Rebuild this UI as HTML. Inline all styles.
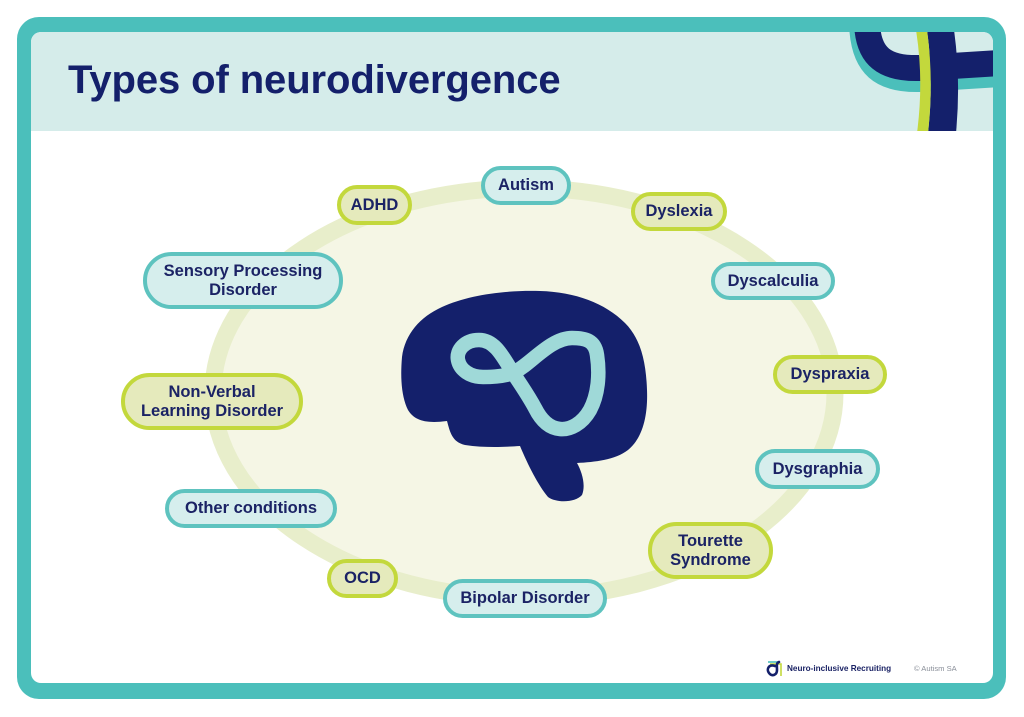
<!DOCTYPE html>
<html>
<head>
<meta charset="utf-8">
<style>
  html,body{margin:0;padding:0;}
  body{width:1024px;height:717px;position:relative;background:#ffffff;overflow:hidden;
       font-family:"Liberation Sans",Arial,sans-serif;}
  .frame{position:absolute;left:17px;top:17px;width:989px;height:682px;background:#4bbfbb;border-radius:22px;}
  .inner{position:absolute;left:31px;top:32px;width:962px;height:651px;background:#ffffff;border-radius:10px;overflow:hidden;}
  .header{position:absolute;left:0;top:0;width:962px;height:99px;background:#d5ecea;}
  .title{position:absolute;left:68px;top:60px;font-size:40px;line-height:40px;font-weight:bold;color:#14206b;letter-spacing:-0.1px;white-space:nowrap;}
  svg.main{position:absolute;left:0;top:0;}
  .pill{position:absolute;box-sizing:border-box;border:4px solid;border-radius:999px;display:flex;align-items:center;justify-content:center;text-align:center;
        font-weight:bold;font-size:16.5px;line-height:19px;color:#1b2365;white-space:nowrap;}
  .t{border-color:#5ec3bf;background:#d6eeed;}
  .l{border-color:#c3d83c;background:#e5eabc;}
  .foot1{position:absolute;left:787px;top:663px;font-size:8.2px;line-height:12px;font-weight:bold;color:#1b2365;white-space:nowrap;}
  .foot2{position:absolute;left:914px;top:663px;font-size:7.6px;line-height:12px;color:#8a8f99;white-space:nowrap;}
</style>
</head>
<body>
<div class="frame"></div>
<div class="inner"><div class="header"></div></div>

<svg class="main" width="1024" height="717" viewBox="0 0 1024 717" xmlns="http://www.w3.org/2000/svg">
  <defs>
    <clipPath id="hdr"><rect x="31" y="32" width="962" height="99"/></clipPath>
  </defs>
  <!-- logo top right -->
  <g clip-path="url(#hdr)">
    <path d="M 862 20 C 862 68, 884 80, 920 79 L 1000 74" fill="none" stroke="#4bbfbb" stroke-width="26"/>
    <path d="M 867 20 C 867 58, 886 69, 920 68 L 1000 63" fill="none" stroke="#14206b" stroke-width="26"/>
    <path d="M 927 30 Q 934 80 928 133 L 956 133 Q 961 80 954 30 Z" fill="#14206b"/>
    <path d="M 916 30 Q 924 80 917 133 L 928 133 Q 934 80 927 30 Z" fill="#c3d83c"/>
  </g>
  <!-- ellipse -->
  <ellipse cx="524" cy="393" rx="311" ry="205" fill="#f5f6e5" stroke="#e8eecb" stroke-width="17"/>
  <!-- brain -->
  <path d="M 402 357
           C 400 380, 402 398, 408 410
           C 414 420, 425 424, 447 421
           C 450 432, 452 442, 465 445
           C 485 448, 505 447, 520 446
           C 528 465, 538 485, 548 497
           C 556 503, 575 503, 582 495
           C 586 485, 582 472, 577 463
           C 595 462, 615 460, 628 450
           C 643 438, 648 415, 647 390
           C 646 360, 640 338, 625 323
           C 605 303, 575 292, 540 291
           C 505 290, 468 295, 442 307
           C 420 317, 405 334, 402 357 Z" fill="#14206b"/>
  <!-- infinity loop -->
  <path d="M 513 373
           C 530 365, 550 338, 572 338
           C 585 338, 595 340, 597 355
           C 600 375, 598 395, 590 410
           C 582 424, 570 430, 560 429
           C 548 428, 540 418, 535 408
           C 528 395, 521 385, 513 373
           C 503 357, 495 340, 479 340
           C 465 340, 456 350, 458 360
           C 460 370, 470 377, 483 377
           C 495 377, 505 376, 513 373 Z" fill="none" stroke="#9fd9d8" stroke-width="14.5" stroke-linejoin="round"/>
  <!-- footer icon -->
  <g>
    <path d="M 770 664 L 781 664 L 781 676" fill="none" stroke="#c3d83c" stroke-width="1.6"/>
    <path d="M 768 662 L 778 662" fill="none" stroke="#4bbfbb" stroke-width="1.6"/>
    <path d="M 775 666 C 769 664, 766 669, 769 673 C 772 677, 777 675, 777 670 C 777 666, 776 663, 779 662" fill="none" stroke="#14206b" stroke-width="2.6" stroke-linecap="round"/>
  </g>
</svg>

<div class="title">Types of neurodivergence</div>

<div class="pill t" style="left:481px;top:166px;width:90px;height:39px;">Autism</div>
<div class="pill l" style="left:631px;top:192px;width:96px;height:39px;">Dyslexia</div>
<div class="pill t" style="left:711px;top:262px;width:124px;height:38px;">Dyscalculia</div>
<div class="pill l" style="left:773px;top:355px;width:114px;height:39px;">Dyspraxia</div>
<div class="pill l" style="left:337px;top:185px;width:75px;height:40px;">ADHD</div>
<div class="pill t" style="left:143px;top:252px;width:200px;height:57px;">Sensory Processing<br>Disorder</div>
<div class="pill l" style="left:121px;top:373px;width:182px;height:57px;">Non-Verbal<br>Learning Disorder</div>
<div class="pill t" style="left:165px;top:489px;width:172px;height:39px;">Other conditions</div>
<div class="pill l" style="left:327px;top:559px;width:71px;height:39px;">OCD</div>
<div class="pill t" style="left:443px;top:579px;width:164px;height:39px;">Bipolar Disorder</div>
<div class="pill t" style="left:755px;top:449px;width:125px;height:40px;">Dysgraphia</div>
<div class="pill l" style="left:648px;top:522px;width:125px;height:57px;">Tourette<br>Syndrome</div>

<div class="foot1">Neuro-inclusive Recruiting</div>
<div class="foot2">© Autism SA</div>
</body>
</html>
